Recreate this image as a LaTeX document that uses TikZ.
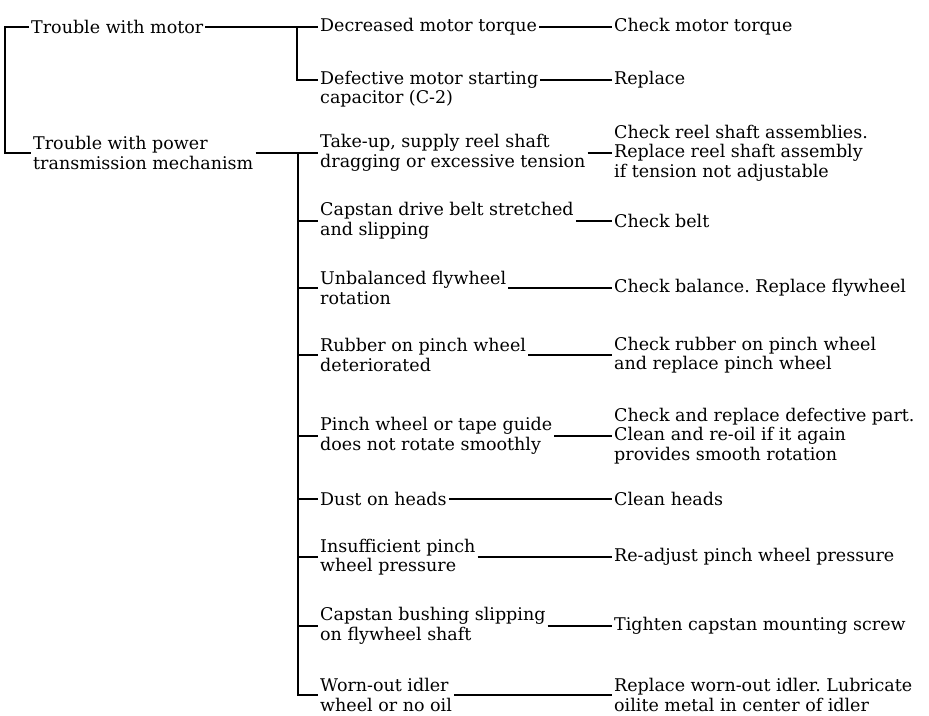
\documentclass[tikz,border=0pt]{standalone}
\usepackage{fontspec}
\setmainfont{DejaVu Serif}
\frenchspacing
\begin{document}
\begin{tikzpicture}[x=1pt, y=-1pt,
    txt/.style={anchor=west, align=left, inner xsep=2pt, inner ysep=0pt, font=\fontsize{17.5}{19.5}\selectfont},
    tie/.style={line width=1.6pt}]
    \useasboundingbox (0,0) rectangle (929,715);

    \node[txt] (motor) at (29,27) {Trouble with motor};
    \node[txt] (power) at (31,153) {Trouble with power\\transmission mechanism};

    \node[txt] (torque) at (318,27) {Decreased motor torque};
    \node[txt] (capacitor) at (318,89) {Defective motor starting\\capacitor (C-2)};
    \node[txt] (reel) at (318,153) {Take-up, supply reel shaft\\dragging or excessive tension};
    \node[txt] (belt) at (318,221) {Capstan drive belt stretched\\and slipping};
    \node[txt] (flywheel) at (318,288) {Unbalanced flywheel\\rotation};
    \node[txt] (rubber) at (318,355) {Rubber on pinch wheel\\deteriorated};
    \node[txt] (guide) at (318,436) {Pinch wheel or tape guide\\does not rotate smoothly};
    \node[txt] (dust) at (318,499) {Dust on heads};
    \node[txt] (pressure) at (318,557) {Insufficient pinch\\wheel pressure};
    \node[txt] (bushing) at (318,626) {Capstan bushing slipping\\on flywheel shaft};
    \node[txt] (idler) at (318,695) {Worn-out idler\\wheel or no oil};

    \node[txt] (chktorque) at (612,27) {Check motor torque};
    \node[txt] (replace) at (612,80) {Replace};
    \node[txt] (chkreel) at (612,153) {Check reel shaft assemblies.\\Replace reel shaft assembly\\if tension not adjustable};
    \node[txt] (chkbelt) at (612,221) {Check belt};
    \node[txt] (chkbalance) at (612,288) {Check balance. Replace flywheel};
    \node[txt] (chkrubber) at (612,355) {Check rubber on pinch wheel\\and replace pinch wheel};
    \node[txt] (chkpart) at (612,436) {Check and replace defective part.\\Clean and re-oil if it again\\provides smooth rotation};
    \node[txt] (clean) at (612,499) {Clean heads};
    \node[txt] (readjust) at (612,557) {Re-adjust pinch wheel pressure};
    \node[txt] (tighten) at (612,626) {Tighten capstan mounting screw};
    \node[txt] (lubricate) at (612,695) {Replace worn-out idler. Lubricate\\oilite metal in center of idler};

    \coordinate (trunk) at (5,27);
    \coordinate (motorfork) at (297,27);
    \coordinate (powerfork) at (298,153);

    \draw[tie] (motor.west) -- (trunk) |- (power.west);
    \draw[tie] (motor.east) -- (torque.west);
    \draw[tie] (motorfork) |- ([yshift=9pt]capacitor.west);
    \draw[tie] (power.east) -- (reel.west);
    \draw[tie] (powerfork) |- (idler.west);
    \foreach \n in {belt, flywheel, rubber, guide, dust, pressure, bushing}
        \draw[tie] (powerfork |- \n.west) -- (\n.west);

    \draw[tie] ([yshift=9pt]capacitor.east) -- (replace.west);
    \foreach \a/\b in {torque/chktorque, reel/chkreel, belt/chkbelt, flywheel/chkbalance,
        rubber/chkrubber, guide/chkpart, dust/clean, pressure/readjust, bushing/tighten, idler/lubricate}
        \draw[tie] (\a.east) -- (\b.west);
\end{tikzpicture}
\end{document}
